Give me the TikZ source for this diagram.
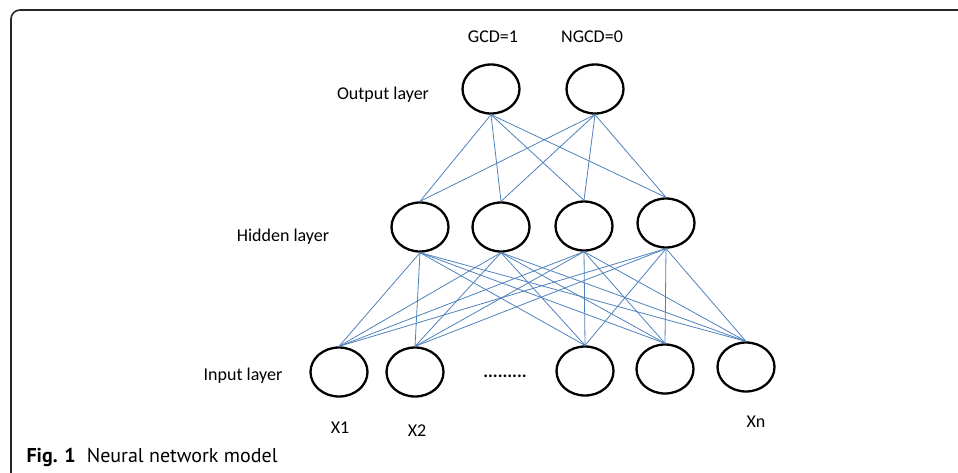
\documentclass[tikz,border=0pt]{standalone}
\usepackage{fontspec}
\setmainfont{Carlito}
\newfontfamily\captionfont{PT Sans}
\usetikzlibrary{shapes.geometric,positioning}

\definecolor{linkblue}{RGB}{79,129,189}
\tikzset{
    neuron/.style={ellipse, draw, line width=2.3pt, minimum width=57pt, minimum height=49pt, inner sep=0pt},
    link/.style={linkblue, line width=0.8pt},
    lbl/.style={anchor=base, font=\fontsize{18}{20}\selectfont}
}

\begin{document}
\begin{tikzpicture}[x=1pt,y=-1pt]
        \useasboundingbox (0,0) rectangle (958,472);
        % frame round the figure
        \draw[line width=1.6pt, black!85, rounded corners=9pt] (11,480) -- (11,10) -- (966,10);

        % output layer
        \node[neuron] at (491,89) (o1) {};
        \node[neuron] at (595,89) (o2) {};
        % hidden layer
        \node[neuron] at (420,227) (h1) {};
        \node[neuron] at (501,227) (h2) {};
        \node[neuron] at (584,226) (h3) {};
        \node[neuron] at (666,223) (h4) {};
        % input layer
        \node[neuron] at (339,372) (i1) {};
        \node[neuron] at (415,372) (i2) {};
        \node[neuron] at (585,371) (i3) {};
        \node[neuron] at (665,369) (i4) {};
        \node[neuron] at (746,367) (i5) {};

        % weights
        \foreach \h in {1,...,4}{
            \foreach \o in {1,2} \draw[link] (h\h.north) -- (o\o.south);
            \foreach \i in {1,...,5} \draw[link] (i\i.north) -- (h\h.south);
        }

        \node[lbl] at (493,42) (gcd) {GCD=1};
        \node[lbl] at (592,42) (ngcd) {NGCD=0};
        \node[lbl] at (383,99) (outlbl) {Output layer};
        \node[lbl] at (283,241) (hidlbl) {Hidden layer};
        \node[lbl] at (243,380) (inlbl) {Input layer};
        \node[lbl] at (505,377) (dots) {\textbf{.........}};
        \node[lbl] at (340,433) (x1) {X1};
        \node[lbl] at (417,436) (x2) {X2};
        \node[lbl] at (756,427) (xn) {Xn};

        \node[anchor=base west, font=\captionfont\fontsize{20}{24}\selectfont] at (23,462) (caption) {\textbf{Fig. 1}\hspace{0.55em}Neural network model};
    \end{tikzpicture}
\end{document}
